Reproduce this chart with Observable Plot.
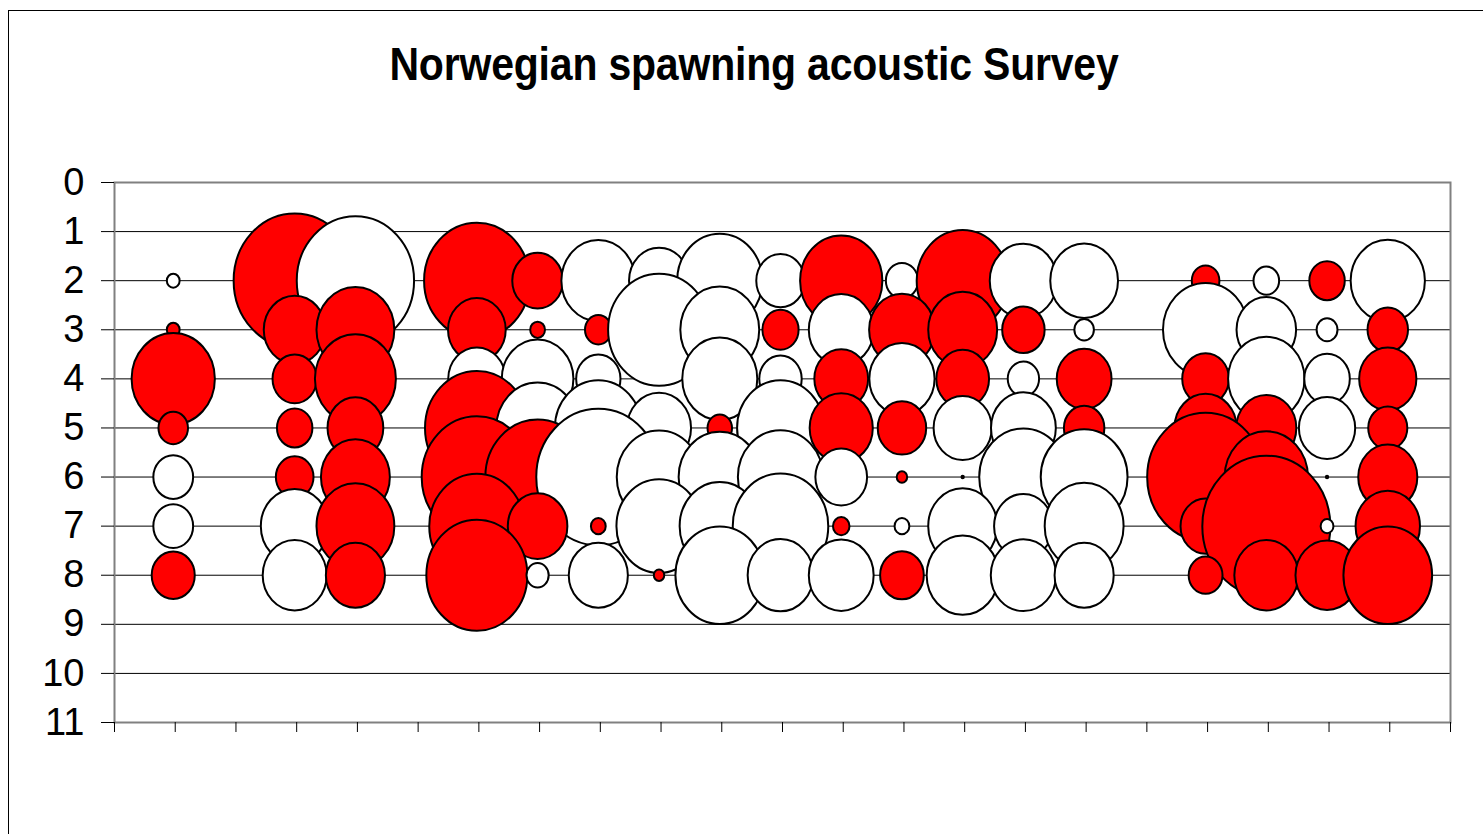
<!DOCTYPE html>
<html>
<head>
<meta charset="utf-8">
<script src="https://cdn.jsdelivr.net/npm/d3@7"></script>
<script src="https://cdn.jsdelivr.net/npm/@observablehq/plot@0.6"></script>
<style>
  html, body { margin: 0; padding: 0; background: #fff; overflow: hidden; }
  #wrap { position: relative; width: 1483px; height: 834px; font-family: "Liberation Sans", Arial, sans-serif; }
  #frame { position: absolute; left: 8px; top: 10px; width: 2000px; height: 2000px; border-left: 1px solid #000; border-top: 1px solid #000; }
  #title { position: absolute; left: 0; top: 46px; width: 1458px; padding-left: 25px; text-align: center;
           font-weight: bold; font-size: 41px; line-height: 41px; color: #000; letter-spacing: -0.2px;
           transform: scaleY(1.12); transform-origin: 50% 80%; }
  #chart { position: absolute; left: 0; top: 100px; }
</style>
</head>
<body>
<div id="wrap">
  <div id="frame"></div>
  <div id="title">Norwegian spawning acoustic Survey</div>
  <div id="chart"></div>
</div>
<script>
// Survey years (x positions) — axis has ticks but no labels
const years = [1988, 1990, 1991, 1993, 1994, 1995, 1996, 1997, 1998, 1999, 2000, 2001, 2002, 2003, 2005, 2006, 2007, 2008];
const axisYears = d3.range(1987, 2010);
const yTicks = d3.range(0, 12);
const ages = [2, 3, 4, 5, 6, 7, 8];

// Residuals by age (red = positive, white = negative); bubble area ~ |residual|
const age2 = [-0.03, 2.73, -2.52, 2.04, 0.47, -1.00, -0.66, -1.33, -0.43, 1.24, -0.19, 1.55, -0.83, -0.84, 0.14, -0.12, 0.23, -1.01];
const age3 = [0.03, 0.70, 1.11, 0.61, 0.04, 0.13, -1.90, -1.14, 0.24, -0.77, 0.79, 0.87, 0.33, -0.07, -1.33, -0.65, -0.08, 0.30];
const age4 = [1.27, 0.36, 1.20, -0.60, -0.94, -0.36, null, -1.03, -0.33, 0.53, -0.78, 0.51, -0.18, 0.55, 0.40, -1.07, -0.38, 0.60];
const age5 = [0.16, 0.23, 0.57, 1.97, -1.25, -1.38, -0.75, 0.11, -1.38, 0.73, 0.43, -0.62, -0.77, 0.30, 0.71, 0.66, -0.58, 0.28];
const age6 = [-0.29, 0.26, 0.87, 2.23, 2.00, -2.82, -1.31, -1.24, -1.33, -0.49, 0.02, 0.001, -1.43, -1.38, 2.50, 1.27, 0.001, 0.64];
const age7 = [-0.29, -0.84, 1.11, 1.66, 0.65, 0.04, -1.33, -1.18, -1.67, 0.05, -0.04, -0.87, -0.63, -1.14, 0.46, 3.00, -0.03, 0.76];
const age8 = [0.34, -0.75, 0.64, 1.87, -0.09, -0.64, 0.02, -1.44, -0.79, -0.77, 0.35, -0.95, -0.78, -0.64, 0.21, 0.75, 0.73, 1.44];
const series = [age2, age3, age4, age5, age6, age7, age8];

// drawn series by series (age ascending), then year ascending, like the original
const rows = [];
ages.forEach((a, i) => years.forEach((yr, j) => {
  const v = series[i][j];
  if (v != null) rows.push({year: yr, age: a, value: v});
}));

// slightly tall ellipse symbol (the original is stretched vertically)
const ellipse = {
  draw(ctx, size) {
    const r = Math.sqrt(size / Math.PI), rx = r, ry = r * 1.1, k = 0.5522847498;
    ctx.moveTo(rx, 0);
    ctx.bezierCurveTo(rx, ry * k, rx * k, ry, 0, ry);
    ctx.bezierCurveTo(-rx * k, ry, -rx, ry * k, -rx, 0);
    ctx.bezierCurveTo(-rx, -ry * k, -rx * k, -ry, 0, -ry);
    ctx.bezierCurveTo(rx * k, -ry, rx, -ry * k, rx, 0);
    ctx.closePath();
  }
};

const chart = Plot.plot({
  width: 1483,
  height: 734,
  marginTop: 82,
  marginBottom: 112,
  marginLeft: 114,
  marginRight: 33,
  style: {fontFamily: "'Liberation Sans', Arial, sans-serif", background: "transparent", overflow: "visible", color: "#000"},
  x: {domain: [1987, 2009], label: null, axis: null},
  y: {domain: [0, 11], reverse: true, label: null, axis: null},
  r: {type: "sqrt", domain: [0, 3], range: [0, 64]},
  color: {type: "identity"},
  marks: [
    Plot.ruleY(yTicks.slice(1), {stroke: "#000", strokeWidth: 1}),
    Plot.frame({stroke: "#808080", strokeWidth: 2}),
    Plot.axisY(yTicks, {anchor: "left", tickSize: 13, tickPadding: 17, fontSize: 38, stroke: "#000", fill: "#000", label: null}),
    Plot.axisX(axisYears, {anchor: "bottom", tickSize: 10, stroke: "#000", fill: "none", label: null}),
    Plot.dot(rows, {
      x: "year", y: "age",
      r: d => Math.abs(d.value),
      fill: d => d.value > 0 ? "#ff0000" : "#ffffff",
      stroke: "#000", strokeWidth: 2,
      symbol: ellipse,
      dx: -2,
      sort: null
    })
  ]
});
document.getElementById("chart").appendChild(chart);
</script>
</body>
</html>
